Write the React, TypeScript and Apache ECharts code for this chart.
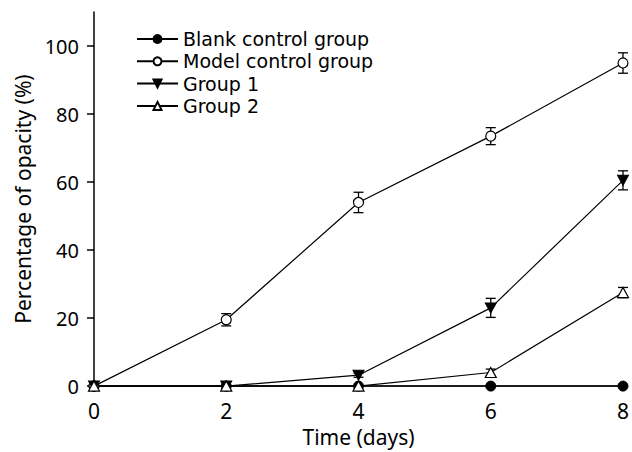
import React, { useEffect, useRef } from "react";
import * as echarts from "echarts";

const days = [0, 2, 4, 6, 8];
const blankControl = [0, 0, 0, 0, 0];
const modelControl = [0, 19.5, 54, 73.5, 95];
const modelErr = [0, 1.8, 3, 2.5, 3];
const group1 = [0, 0, 3.2, 23, 60.5];
const group1Err = [0, 0, 0.6, 2.8, 2.8];
const group2 = [0, 0, 0, 4, 27.5];
const group2Err = [0, 0, 0, 1, 1.5];
const yTicks = [0, 20, 40, 60, 80, 100];

const FONT = "Noto Sans";
const LEGEND_FONT = "DejaVu Sans";
const FS = 21;
const DOWN_TRI = "path://M0,0 L10,0 L5,9 Z";

function pairs(vals: number[]) {
  return days.map((d, i) => [d, vals[i]]);
}
function errData(vals: number[], errs: number[]) {
  return days
    .map((d, i) => [d, vals[i] - errs[i], vals[i] + errs[i]])
    .filter((_, i) => errs[i] > 0);
}

export default function App() {
  const ref = useRef<HTMLDivElement>(null);
  useEffect(() => {
    if (!ref.current) return;
    const chart = echarts.init(ref.current, undefined, { renderer: "svg" });
    const lineStyle = { color: "#000", width: 1.2 };
    const errSeries = (vals: number[], errs: number[]) => ({
      type: "custom",
      z: 1,
      silent: true,
      data: errData(vals, errs),
      renderItem: (params: any, api: any) => {
        const x = api.value(0);
        const lo = api.coord([x, api.value(1)]);
        const hi = api.coord([x, api.value(2)]);
        const w = 5;
        const st = { stroke: "#000", lineWidth: 1.3 };
        return {
          type: "group",
          children: [
            { type: "line", shape: { x1: lo[0], y1: lo[1], x2: hi[0], y2: hi[1] }, style: st },
            { type: "line", shape: { x1: lo[0] - w, y1: lo[1], x2: lo[0] + w, y2: lo[1] }, style: st },
            { type: "line", shape: { x1: hi[0] - w, y1: hi[1], x2: hi[0] + w, y2: hi[1] }, style: st },
          ],
        };
      },
    });
    chart.setOption({
      animation: false,
      backgroundColor: "#fff",
      textStyle: { fontFamily: FONT },
      grid: { left: 94, right: 6, top: 12, bottom: 59, containLabel: false },
      legend: {
        orient: "vertical",
        left: 136,
        top: 28,
        padding: 0,
        itemWidth: 41,
        itemHeight: 10,
        itemGap: 0.3,
        textStyle: { fontSize: 19, color: "#000", fontFamily: LEGEND_FONT, lineHeight: 22, padding: 0 },
        data: ["Blank control group", "Model control group", "Group 1", "Group 2"],
      },
      xAxis: {
        type: "value",
        min: 0,
        max: 8,
        interval: 2,
        name: "Time (days)",
        nameLocation: "middle",
        nameGap: 38,
        nameTextStyle: { fontSize: FS, color: "#000", fontFamily: FONT },
        axisLine: { show: true, lineStyle: { color: "#000", width: 1.5 } },
        axisTick: { show: false },
        axisLabel: { fontSize: FS, color: "#000", margin: 14, fontFamily: FONT, showMaxLabel: true },
        splitLine: { show: false },
      },
      yAxis: {
        type: "value",
        min: 0,
        max: 110,
        interval: 20,
        name: "Percentage of opacity (%)",
        nameLocation: "middle",
        nameGap: 60,
        nameTextStyle: { fontSize: FS, color: "#000", fontFamily: FONT },
        axisLine: { show: true, lineStyle: { color: "#000", width: 1.5 } },
        axisTick: { show: true, length: 7, customValues: yTicks, lineStyle: { color: "#000", width: 1.5 } },
        axisLabel: { fontSize: 20, color: "#000", margin: 15, customValues: yTicks, fontFamily: FONT },
        splitLine: { show: false },
      },
      series: [
        errSeries(modelControl, modelErr),
        errSeries(group1, group1Err),
        errSeries(group2, group2Err),
        {
          name: "Blank control group",
          type: "line",
          z: 3,
          data: pairs(blankControl),
          symbol: "circle",
          symbolSize: 10,
          lineStyle,
          itemStyle: { color: "#000", borderColor: "#000", borderWidth: 1 },
        },
        {
          name: "Model control group",
          type: "line",
          z: 3,
          data: pairs(modelControl),
          symbol: "circle",
          symbolSize: 10,
          lineStyle,
          itemStyle: { color: "#fff", borderColor: "#000", borderWidth: 1.2 },
        },
        {
          name: "Group 1",
          type: "line",
          z: 3,
          data: pairs(group1),
          symbol: DOWN_TRI,
          symbolSize: [11, 10],
          lineStyle,
          itemStyle: { color: "#000", borderColor: "#000", borderWidth: 1 },
        },
        {
          name: "Group 2",
          type: "line",
          z: 4,
          data: pairs(group2),
          symbol: "triangle",
          symbolSize: [11, 10],
          lineStyle,
          itemStyle: { color: "#fff", borderColor: "#000", borderWidth: 1.2 },
        },
      ],
    });
    return () => chart.dispose();
  }, []);
  return (
    <div
      ref={ref}
      style={{ position: "absolute", left: 0, top: 0, width: 632, height: 452 }}
    />
  );
}
